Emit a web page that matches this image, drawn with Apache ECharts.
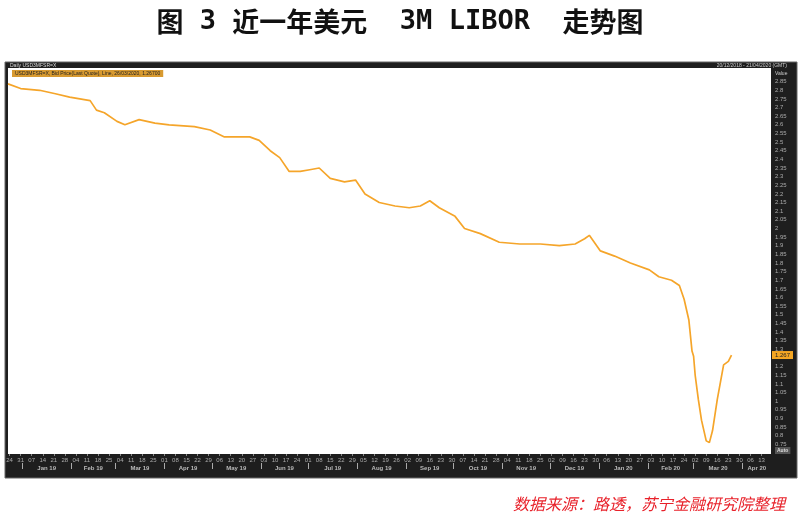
<!DOCTYPE html>
<html><head><meta charset="utf-8">
<script src="https://cdn.jsdelivr.net/npm/echarts@6/dist/echarts.min.js"></script>
<style>html,body{margin:0;padding:0;background:#fff;}#c{width:800px;height:519px;}</style>
</head><body><div id="c"></div>
<script>
// ---- data ----
const dates = ['2018-12-23','2018-12-31','2019-01-12','2019-01-22','2019-01-31','2019-02-13','2019-02-17','2019-02-22','2019-03-02','2019-03-07','2019-03-16','2019-03-26','2019-04-04','2019-04-20','2019-04-30','2019-05-09','2019-05-25','2019-05-31','2019-06-07','2019-06-13','2019-06-19','2019-06-26','2019-07-02','2019-07-08','2019-07-15','2019-07-24','2019-07-31','2019-08-06','2019-08-15','2019-08-25','2019-09-03','2019-09-10','2019-09-16','2019-09-22','2019-10-02','2019-10-08','2019-10-18','2019-10-30','2019-11-12','2019-11-25','2019-12-07','2019-12-17','2019-12-23','2019-12-26','2020-01-02','2020-01-11','2020-01-21','2020-02-02','2020-02-08','2020-02-16','2020-02-21','2020-02-24','2020-02-27','2020-02-29','2020-03-01','2020-03-02','2020-03-04','2020-03-06','2020-03-09','2020-03-11','2020-03-13','2020-03-16','2020-03-18','2020-03-20','2020-03-23','2020-03-25'];
const values = [2.837,2.81,2.80,2.78,2.76,2.74,2.685,2.67,2.62,2.60,2.63,2.61,2.60,2.59,2.57,2.53,2.53,2.51,2.45,2.41,2.33,2.33,2.34,2.35,2.29,2.27,2.28,2.20,2.15,2.13,2.12,2.13,2.16,2.12,2.07,2.00,1.97,1.92,1.91,1.91,1.90,1.91,1.94,1.96,1.87,1.84,1.80,1.76,1.72,1.70,1.67,1.59,1.47,1.29,1.26,1.15,1.01,0.89,0.77,0.76,0.83,1.01,1.11,1.21,1.23,1.267];
const yTickValues = [2.85,2.8,2.75,2.7,2.65,2.6,2.55,2.5,2.45,2.4,2.35,2.3,2.25,2.2,2.15,2.1,2.05,2,1.95,1.9,1.85,1.8,1.75,1.7,1.65,1.6,1.55,1.5,1.45,1.4,1.35,1.3,1.2,1.15,1.1,1.05,1,0.95,0.9,0.85,0.8,0.75];
const weekTicks = ['2018-12-24','2018-12-31','2019-01-07','2019-01-14','2019-01-21','2019-01-28','2019-02-04','2019-02-11','2019-02-18','2019-02-25','2019-03-04','2019-03-11','2019-03-18','2019-03-25','2019-04-01','2019-04-08','2019-04-15','2019-04-22','2019-04-29','2019-05-06','2019-05-13','2019-05-20','2019-05-27','2019-06-03','2019-06-10','2019-06-17','2019-06-24','2019-07-01','2019-07-08','2019-07-15','2019-07-22','2019-07-29','2019-08-05','2019-08-12','2019-08-19','2019-08-26','2019-09-02','2019-09-09','2019-09-16','2019-09-23','2019-09-30','2019-10-07','2019-10-14','2019-10-21','2019-10-28','2019-11-04','2019-11-11','2019-11-18','2019-11-25','2019-12-02','2019-12-09','2019-12-16','2019-12-23','2019-12-30','2020-01-06','2020-01-13','2020-01-20','2020-01-27','2020-02-03','2020-02-10','2020-02-17','2020-02-24','2020-03-02','2020-03-09','2020-03-16','2020-03-23','2020-03-30','2020-04-06','2020-04-13'];
const monthStarts = ['2019-01-01','2019-02-01','2019-03-01','2019-04-01','2019-05-01','2019-06-01','2019-07-01','2019-08-01','2019-09-01','2019-10-01','2019-11-01','2019-12-01','2020-01-01','2020-02-01','2020-03-01','2020-04-01'];
const monthLabels = ['Jan 19','Feb 19','Mar 19','Apr 19','May 19','Jun 19','Jul 19','Aug 19','Sep 19','Oct 19','Nov 19','Dec 19','Jan 20','Feb 20','Mar 20','Apr 20'];
const axisMin = '2018-12-23';
const axisMax = '2020-04-19';
const titleParts = [['c','图'],['l',' 3 '],['c','近一年美元'],['l','  3M LIBOR  '],['c','走势图']];
const sourceText = '数据来源：路透，苏宁金融研究院整理';
const headerLeft = 'Daily USD3MFSR=X';
const headerRight = '20/12/2018 - 21/04/2020 (GMT)';
const legendText = 'USD3MFSR=X, Bid Price(Last Quote), Line, 26/03/2020, 1.26700';

// ---- helpers: dates -> day index since 2019-01-01 ----
const EPOCH = Date.UTC(2019,0,1);
function dayIdx(s){const p=s.split('-').map(Number);return Math.round((Date.UTC(p[0],p[1]-1,p[2])-EPOCH)/86400000);}
function dayOfMonth(d){return new Date(EPOCH+d*86400000).getUTCDate();}
const pad=n=>(n<10?'0':'')+n;
const xMin=dayIdx(axisMin), xMax=dayIdx(axisMax);
const weekIdx=weekTicks.map(dayIdx);
const monthIdx=monthStarts.map(dayIdx);
const monthCenters=monthIdx.map((t,i)=>{const e=i<monthIdx.length-1?monthIdx[i+1]:xMax;return (t+e)/2;});
const lastVal=values[values.length-1];
const seriesData=dates.map((d,i)=>[dayIdx(d),values[i]]);
const yMin=0.694, yMax=2.929;
const small='Liberation Sans';
const titleRich=titleParts.map(p=>'{'+p[0]+'|'+p[1]+'}').join('');

const chart=echarts.init(document.getElementById('c'),null,{renderer:'canvas'});
chart.setOption({
  animation:false,
  backgroundColor:'#ffffff',
  grid:{left:8,right:29,top:68,bottom:65,containLabel:false},
  xAxis:[{
    type:'value',min:xMin,max:xMax,position:'bottom',
    axisLine:{show:false},splitLine:{show:false},
    axisTick:{show:true,customValues:weekIdx,length:2,lineStyle:{color:'#888'}},
    axisLabel:{customValues:weekIdx,margin:3,fontSize:6,color:'#aaaaaa',fontFamily:small,
      formatter:v=>pad(dayOfMonth(v)),hideOverlap:false}
  },{
    type:'value',min:xMin,max:xMax,position:'bottom',offset:9,
    axisLine:{show:false},splitLine:{show:false},
    axisTick:{show:true,customValues:monthIdx,length:6,lineStyle:{color:'#aaa'}},
    axisLabel:{customValues:monthCenters,margin:2,fontSize:6,fontWeight:'bold',color:'#bbbbbb',fontFamily:small,
      formatter:v=>{const i=monthCenters.indexOf(v);return i>=0?monthLabels[i]:'';},hideOverlap:false}
  }],
  yAxis:[{
    type:'value',min:yMin,max:yMax,position:'right',
    axisLine:{show:false},splitLine:{show:false},axisTick:{show:false},
    axisLabel:{customValues:yTickValues,margin:4,fontSize:6,color:'#aaaaaa',fontFamily:small,
      formatter:v=>String(+v.toFixed(2))}
  },{
    type:'value',min:yMin,max:yMax,position:'right',
    axisLine:{show:false},splitLine:{show:false},axisTick:{show:false},
    axisLabel:{customValues:[lastVal],margin:1,fontSize:6,color:'#222',fontFamily:small,
      backgroundColor:'#f5a623',padding:[1,3],formatter:v=>v.toFixed(3)}
  }],
  series:[{
    type:'line',data:seriesData,showSymbol:false,symbol:'none',
    lineStyle:{color:'#f5a52a',width:1.7},xAxisIndex:0,yAxisIndex:0,z:5
  }],
  graphic:[
    {type:'rect',shape:{x:5,y:62,width:792,height:416},style:{fill:'#1e1e1e',stroke:'#666',lineWidth:1},z:-10,silent:true},
    {type:'rect',shape:{x:8,y:68,width:763,height:386},style:{fill:'#ffffff'},z:-9,silent:true},
    {type:'text',x:400,y:22,style:{text:titleRich,align:'center',verticalAlign:'middle',
      rich:{c:{font:'bold 27px "Noto Sans CJK SC"',fill:'#111'},l:{font:'bold 27px "DejaVu Sans Mono"',fill:'#111'}}}},
    {type:'text',x:10,y:63,style:{text:headerLeft,font:'5px "Liberation Sans"',fill:'#ddd'}},
    {type:'text',x:787,y:63,style:{text:headerRight,font:'5px "Liberation Sans"',fill:'#ccc',align:'right'}},
    {type:'text',x:12,y:70,style:{text:legendText,font:'5px "Liberation Sans"',fill:'#222',backgroundColor:'#d89a30',padding:[1,3]}},
    {type:'text',x:775,y:71,style:{text:'Value',font:'5px "Liberation Sans"',fill:'#ccc'}},
    {type:'text',x:775,y:447,style:{text:'Auto',font:'bold 5px "Liberation Sans"',fill:'#ddd',backgroundColor:'#555',padding:[1,2]}},
    {type:'text',x:513,y:496,style:{text:sourceText,font:'italic 16px "Noto Sans CJK SC"',fill:'#e8212a'}}
  ]
});
</script></body></html>
